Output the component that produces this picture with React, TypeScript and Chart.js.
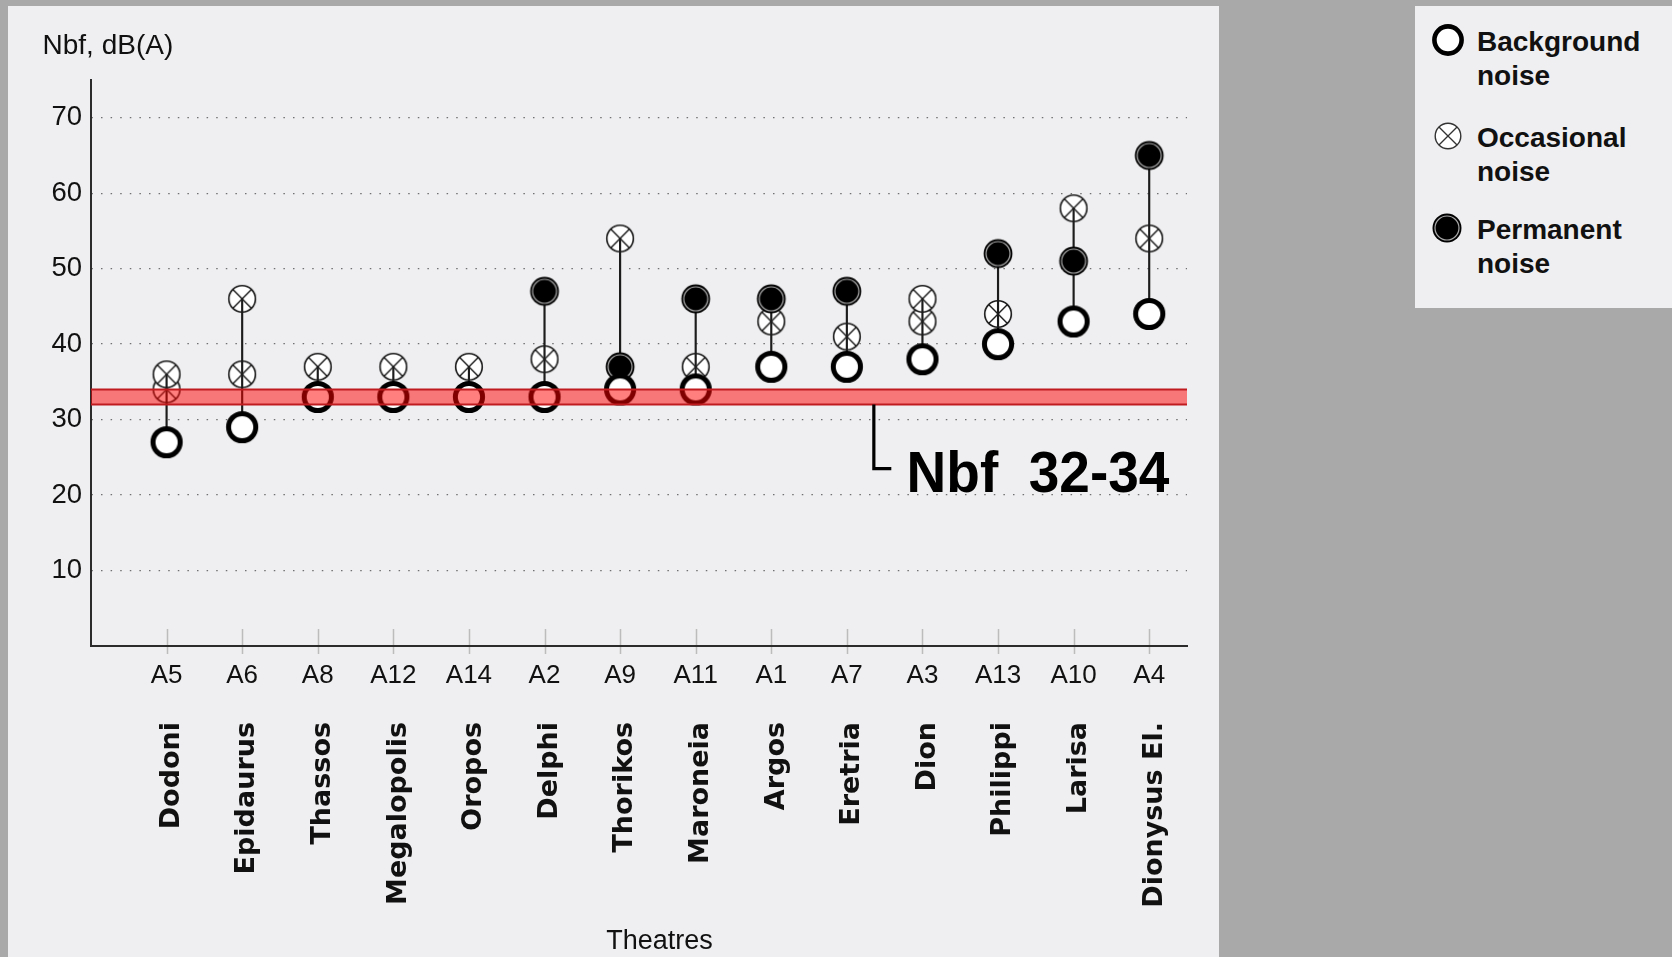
import React, { useEffect, useRef } from 'react';
import { Chart, registerables } from 'chart.js';

Chart.register(...registerables);

// ---------- data ----------
const theatreCodes = ['A5', 'A6', 'A8', 'A12', 'A14', 'A2', 'A9', 'A11', 'A1', 'A7', 'A3', 'A13', 'A10', 'A4'];
const theatreNames = ['Dodoni', 'Epidaurus', 'Thassos', 'Megalopolis', 'Oropos', 'Delphi', 'Thorikos', 'Maroneia', 'Argos', 'Eretria', 'Dion', 'Philippi', 'Larisa', 'Dionysus El.'];
const backgroundNoise = [27, 29, 33, 33, 33, 33, 34, 34, 37, 37, 38, 40, 43, 44];
const occasionalNoise = [34, 36, 37, 37, 37, 38, 54, 37, 43, 41, 43, 44, 58, 54];
const occasionalNoiseExtra = [36, 46, null, null, null, null, null, null, null, null, 46, null, null, null];
const permanentNoise = [null, null, null, null, null, 47, 37, 46, 46, 47, null, 52, 51, 65];
const yTickValues = [10, 20, 30, 40, 50, 60, 70];
const yAxisMax = 75;
const xAxisMax = 14.5;
const nbfRange = [32, 34];
const nbfLabel = 'Nbf  32-34';
const yAxisTitle = 'Nbf, dB(A)';
const xAxisTitle = 'Theatres';
const legendLabels = [
  ['Background', 'noise'],
  ['Occasional', 'noise'],
  ['Permanent', 'noise'],
];
// annotation anchor (in data units)
const nbfBracketX = 10.357;
const nbfBracketEndX = 10.588;
const nbfBracketBottom = 23.5;
const nbfTextX = 10.79;
const nbfTextY = 20.4;

const SANS = "'Liberation Sans', Arial, Helvetica, sans-serif";
const WIDE_BOLD = "'DejaVu Sans', 'Liberation Sans', Arial, sans-serif";

function makeMarker(size: number, draw: (ctx: CanvasRenderingContext2D, c: number) => void) {
  const cv = document.createElement('canvas');
  cv.width = size;
  cv.height = size;
  const ctx = cv.getContext('2d') as CanvasRenderingContext2D;
  draw(ctx, size / 2);
  return cv;
}

const decorPlugin = {
  id: 'decor',
  beforeDraw(chart: any) {
    const { ctx, scales } = chart;
    const x = scales.x;
    const bottom = chart.chartArea.bottom;
    ctx.save();
    ctx.strokeStyle = '#bcbcbc';
    ctx.lineWidth = 1.5;
    x.ticks.forEach((t: any) => {
      const px = Math.round(x.getPixelForValue(t.value)) + 0.5;
      ctx.beginPath();
      ctx.moveTo(px, bottom - 17);
      ctx.lineTo(px, bottom + 8);
      ctx.stroke();
    });
    ctx.restore();
  },
  afterDraw(chart: any) {
    const { ctx, scales, chartArea } = chart;
    const x = scales.x;
    const y = scales.y;
    ctx.save();
    // bracket
    ctx.strokeStyle = '#000';
    ctx.lineWidth = 3.2;
    ctx.lineJoin = 'miter';
    ctx.beginPath();
    ctx.moveTo(x.getPixelForValue(nbfBracketX), y.getPixelForValue(nbfRange[0]));
    ctx.lineTo(x.getPixelForValue(nbfBracketX), y.getPixelForValue(nbfBracketBottom));
    ctx.lineTo(x.getPixelForValue(nbfBracketEndX), y.getPixelForValue(nbfBracketBottom));
    ctx.stroke();
    // big label
    ctx.fillStyle = '#000';
    ctx.font = `bold 55px ${SANS}`;
    ctx.textAlign = 'left';
    ctx.textBaseline = 'alphabetic';
    ctx.translate(x.getPixelForValue(nbfTextX), y.getPixelForValue(nbfTextY));
    ctx.scale(1, 1.06);
    ctx.fillText(nbfLabel, 0, 0);
    ctx.restore();

    ctx.save();
    ctx.fillStyle = '#111';
    ctx.textBaseline = 'alphabetic';
    ctx.font = `28px ${SANS}`;
    ctx.textAlign = 'left';
    ctx.fillText(yAxisTitle, chartArea.left - 48.5, chartArea.top - 25.6);
    ctx.font = `27px ${SANS}`;
    ctx.textAlign = 'center';
    ctx.fillText(xAxisTitle, chartArea.left + 568.5, chartArea.bottom + 303.3);
    ctx.restore();
  },
};

export default function App() {
  const ref = useRef<HTMLCanvasElement>(null);

  useEffect(() => {
    const canvas = ref.current;
    if (!canvas) return;

    const bgMarker = makeMarker(38, (c, m) => {
      c.beginPath();
      c.arc(m, m, 13.6, 0, Math.PI * 2);
      c.fillStyle = '#fff';
      c.fill();
      c.lineWidth = 5;
      c.strokeStyle = '#000';
      c.stroke();
    });
    const occMarker = makeMarker(32, (c, m) => {
      const r = 13.3;
      c.beginPath();
      c.arc(m, m, r, 0, Math.PI * 2);
      c.fillStyle = '#fff';
      c.fill();
      c.lineWidth = 1.6;
      c.strokeStyle = '#1a1a1a';
      c.stroke();
      const d = r * Math.SQRT1_2;
      c.lineWidth = 1.4;
      c.beginPath();
      c.moveTo(m - d, m - d);
      c.lineTo(m + d, m + d);
      c.moveTo(m + d, m - d);
      c.lineTo(m - d, m + d);
      c.stroke();
    });
    const permMarker = makeMarker(32, (c, m) => {
      c.beginPath();
      c.arc(m, m, 14.4, 0, Math.PI * 2);
      c.fillStyle = '#000';
      c.fill();
      c.beginPath();
      c.arc(m, m, 12, 0, Math.PI * 2);
      c.lineWidth = 1.2;
      c.strokeStyle = '#a8a8a8';
      c.stroke();
    });

    const pts = (arr: (number | null)[]) =>
      arr.map((v, i) => (v == null ? null : { x: i + 1, y: v })).filter((p) => p !== null) as { x: number; y: number }[];

    const ranges = theatreCodes.map((_, i) => {
      const vals = [backgroundNoise[i], occasionalNoise[i], occasionalNoiseExtra[i], permanentNoise[i]].filter(
        (v) => v != null
      ) as number[];
      return { x: i + 1, y: [Math.min(...vals), Math.max(...vals)] };
    });

    const chart = new Chart(canvas, {
      type: 'scatter',
      data: {
        datasets: [
          {
            type: 'scatter',
            label: 'Occasional noise',
            data: [...pts(occasionalNoise), ...pts(occasionalNoiseExtra)],
            pointStyle: occMarker as any,
            pointRadius: 14,
            order: 5,
          },
          {
            type: 'bar',
            label: 'range',
            data: ranges as any,
            backgroundColor: '#1c1c1c',
            borderWidth: 0,
            barThickness: 1.5,
            grouped: false,
            order: 4,
          } as any,
          {
            type: 'scatter',
            label: 'Permanent noise',
            data: pts(permanentNoise),
            pointStyle: permMarker as any,
            pointRadius: 14,
            order: 3,
          },
          {
            type: 'scatter',
            label: 'Background noise',
            data: pts(backgroundNoise),
            pointStyle: bgMarker as any,
            pointRadius: 15,
            order: 2,
          },
          {
            type: 'line',
            label: 'Nbf low',
            data: [
              { x: 0, y: nbfRange[0] },
              { x: xAxisMax, y: nbfRange[0] },
            ],
            borderColor: 'rgb(192, 28, 32)',
            borderWidth: 2,
            pointRadius: 0,
            fill: '+1',
            backgroundColor: 'rgba(255, 0, 0, 0.5)',
            order: 1,
          },
          {
            type: 'line',
            label: 'Nbf high',
            data: [
              { x: 0, y: nbfRange[1] },
              { x: xAxisMax, y: nbfRange[1] },
            ],
            borderColor: 'rgb(192, 28, 32)',
            borderWidth: 2,
            pointRadius: 0,
            fill: false,
            order: 0,
          },
        ],
      },
      options: {
        responsive: false,
        animation: false,
        events: [],
        layout: { padding: { top: 80, left: 0, right: 33, bottom: 0 } },
        plugins: {
          legend: { display: false },
          tooltip: { enabled: false },
          title: { display: false },
        },
        scales: {
          x: {
            type: 'linear',
            position: 'bottom',
            min: 0,
            max: xAxisMax,
            offset: false,
            weight: 0,
            afterBuildTicks: (s: any) => {
              s.ticks = theatreCodes.map((_, i) => ({ value: i + 1 }));
            },
            afterFit: (s: any) => {
              s.height = 44;
            },
            grid: { display: false, drawTicks: false, offset: false },
            border: { display: true, color: '#2b2b2b', width: 2 },
            ticks: {
              autoSkip: false,
              maxRotation: 0,
              minRotation: 0,
              padding: 14,
              color: '#111',
              font: { family: SANS, size: 26 },
              callback: (_v: any, i: number) => theatreCodes[i],
            },
          },
          x2: {
            type: 'linear',
            axis: 'x',
            position: 'bottom',
            min: -0.07,
            max: xAxisMax - 0.07,
            offset: false,
            weight: 1,
            afterBuildTicks: (s: any) => {
              s.ticks = theatreNames.map((_, i) => ({ value: i + 1 }));
            },
            afterFit: (s: any) => {
              s.height = 267;
            },
            grid: { display: false, drawTicks: false },
            border: { display: false },
            ticks: {
              autoSkip: false,
              maxRotation: 90,
              minRotation: 90,
              padding: 32,
              color: '#111',
              font: { family: WIDE_BOLD, size: 27, weight: 'bold' },
              callback: (_v: any, i: number) => theatreNames[i],
            },
          },
          y: {
            type: 'linear',
            min: 0,
            max: yAxisMax,
            afterBuildTicks: (s: any) => {
              s.ticks = yTickValues.map((v) => ({ value: v }));
            },
            afterFit: (s: any) => {
              s.width = 91;
            },
            grid: { color: '#707070', lineWidth: 1.3, drawTicks: false },
            border: { display: true, color: '#2b2b2b', width: 2, dash: [1.5, 8.1], dashOffset: 0.6 },
            ticks: {
              padding: 9,
              color: '#111',
              font: { family: SANS, size: 27.5 },
            },
          },
        },
      } as any,
      plugins: [decorPlugin],
    } as any);

    return () => chart.destroy();
  }, []);

  const legendTop = [19.2, 115.4, 207.2];

  return (
    <div style={{ position: 'fixed', left: 0, top: 0, width: 1672, height: 957, background: '#a9a9a9', overflow: 'hidden' }}>
      <div style={{ position: 'absolute', left: 8, top: 6, width: 1211, height: 951, background: '#efeef0' }} />
      <canvas ref={ref} width={1220} height={957} style={{ position: 'absolute', left: 0, top: 0, width: 1220, height: 957 }} />
      <div style={{ position: 'absolute', left: 1415, top: 6, width: 257, height: 302, background: '#efeef0' }}>
        <svg width={40} height={40} style={{ position: 'absolute', left: 13, top: 14 }}>
          <circle cx={20} cy={20} r={13.6} fill="#fff" stroke="#000" strokeWidth={4.6} />
        </svg>
        <svg width={40} height={40} style={{ position: 'absolute', left: 13, top: 110 }}>
          <circle cx={20} cy={20} r={12.8} fill="#fff" stroke="#333" strokeWidth={1.4} />
          <line x1={20 - 9.05} y1={20 - 9.05} x2={20 + 9.05} y2={20 + 9.05} stroke="#333" strokeWidth={1.3} />
          <line x1={20 + 9.05} y1={20 - 9.05} x2={20 - 9.05} y2={20 + 9.05} stroke="#333" strokeWidth={1.3} />
        </svg>
        <svg width={40} height={40} style={{ position: 'absolute', left: 12, top: 202 }}>
          <circle cx={20} cy={20} r={14.5} fill="#000" />
          <circle cx={20} cy={20} r={12} fill="none" stroke="#a8a8a8" strokeWidth={1.2} />
        </svg>
        {legendLabels.map((lines, i) => (
          <div
            key={i}
            style={{
              position: 'absolute',
              left: 62,
              top: legendTop[i],
              fontFamily: SANS,
              fontWeight: 'bold',
              fontSize: 28,
              lineHeight: '33.5px',
              color: '#111',
              whiteSpace: 'nowrap',
            }}
          >
            {lines.map((l, j) => (
              <div key={j}>{l}</div>
            ))}
          </div>
        ))}
      </div>
    </div>
  );
}
